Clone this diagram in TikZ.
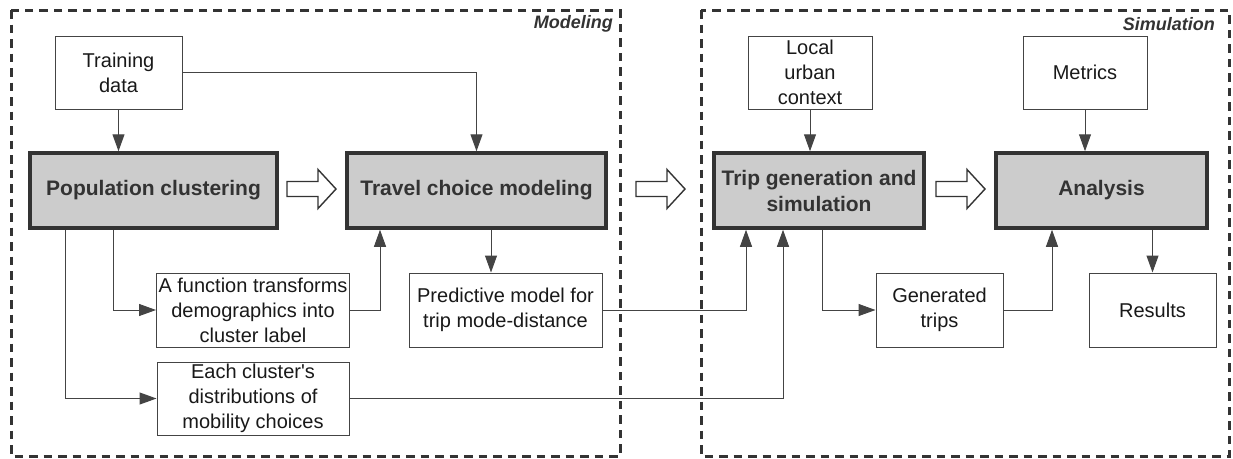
\documentclass[tikz,border=0pt]{standalone}
\usepackage{fontspec}
\setmainfont{Liberation Sans}
\usetikzlibrary{arrows.meta,calc}
\definecolor{ink}{HTML}{333333}
\definecolor{wire}{HTML}{444444}
\definecolor{stage}{HTML}{CCCCCC}
\tikzset{
  plain/.style={draw=wire, line width=1pt, fill=white, align=center, inner sep=2pt,
    font=\fontsize{20}{25}\selectfont, text=black!90},
  stagebox/.style={draw=ink, line width=3.5pt, fill=stage, align=center, inner sep=2pt,
    minimum height=75pt,
    font=\fontsize{21}{26}\selectfont\bfseries, text=ink},
  frame/.style={draw=ink, line width=3pt, dash pattern=on 8.5pt off 6pt},
  framelabel/.style={anchor=east, inner sep=0pt, text=ink,
    font=\fontsize{18}{22}\selectfont\bfseries\itshape},
  link/.style={draw=wire, line width=1pt, -{Triangle[length=17pt,width=12pt]}},
  flow/.style={draw=ink, line width=1.4pt, fill=white, line join=miter},
}
\begin{document}
\begin{tikzpicture}[x=1pt,y=-1pt]
\useasboundingbox (0,0) rectangle (1233,458);

% phase frames
\draw[frame] (11,10) rectangle (620,456);
\draw[frame] (701,10) rectangle (1229,456);
\node[framelabel] (lmod) at (613,24) {Modeling};
\node[framelabel] (lsim) at (1215,24) {Simulation};

% inputs
\node[plain, minimum width=127pt, minimum height=73pt] (td) at (118.5,72.5) {Training\\data};
\node[plain, minimum width=124pt, minimum height=73pt] (lu) at (810,72.5) {Local\\urban\\context};
\node[plain, minimum width=124pt, minimum height=73pt] (me) at (1085,72.5) {Metrics};

% main stages
\node[stagebox, minimum width=247pt] (pc) at (153.5,190.5) {Population clustering};
\node[stagebox, minimum width=259pt] (tcm) at (476.5,190.5) {Travel choice modeling};
\node[stagebox, minimum width=210pt] (tg) at (819,190.5) {Trip generation and\\simulation};
\node[stagebox, minimum width=211pt] (an) at (1101.5,190.5) {Analysis};

% intermediate products
\node[plain, minimum width=192pt, minimum height=74pt] (fn) at (253,310) {A function transforms\\demographics into\\cluster label};
\node[plain, minimum width=192pt, minimum height=73pt] (ec) at (253,398.5) {Each cluster\textquotesingle s\\distributions of\\mobility choices};
\node[plain, minimum width=193pt, minimum height=74pt] (pm) at (505.5,310) {Predictive model for\\trip mode-distance};
\node[plain, minimum width=127pt, minimum height=74pt] (gt) at (939.5,310) {Generated\\trips};
\node[plain, minimum width=127pt, minimum height=74pt] (rs) at (1152.5,310) {Results};

% open block arrows between stages
\foreach \x in {287,636,936}{
  \draw[flow] (\x,181.5) -- ++(31,0) -- ++(0,-12) -- ++(18,19.5) -- ++(-18,19.5) -- ++(0,-12) -- ++(-31,0) -- cycle;
}

% connectors
\draw[link] (td.south) -- (td.south |- pc.north);
\draw[link] (td.east) -| (tcm.north);
\draw[link] ([xshift=-40.5]pc.south) |- (fn.west);
\draw[link] ([xshift=-88.5]pc.south) |- (ec.west);
\draw[link] (fn.east) -| ([xshift=-96.5]tcm.south);
\draw[link] ([xshift=14.5]tcm.south) -- ([xshift=14.5]tcm.south |- pm.north);
\draw[link] (pm.east) -| ([xshift=-73]tg.south);
\draw[link] (ec.east) -| ([xshift=-36]tg.south);
\draw[link] (lu.south) -- (lu.south |- tg.north);
\draw[link] ([xshift=3]tg.south) |- (gt.west);
\draw[link] (gt.east) -| ([xshift=-49.5]an.south);
\draw[link] (me.south) -- (me.south |- an.north);
\draw[link] (rs.north |- an.south) -- (rs.north);
\end{tikzpicture}
\end{document}
